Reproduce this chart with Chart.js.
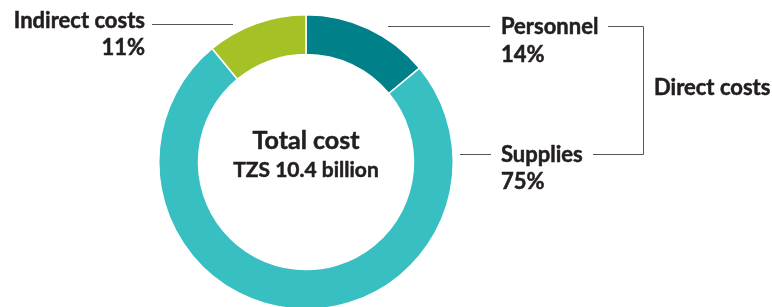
<!DOCTYPE html>
<html>
<head>
<meta charset="utf-8">
<script src="https://cdn.jsdelivr.net/npm/chart.js@4/dist/chart.umd.min.js"></script>
<style>
  html, body { margin: 0; padding: 0; background: #fff; overflow: hidden; }
  #wrap { width: 772px; height: 320px; }
</style>
</head>
<body>
<div id="wrap"><canvas id="donut"></canvas></div>
<script>
// data
const categories = ["Personnel", "Supplies", "Indirect costs"];
const shares = [14, 75, 11];
const colors = ["#00818a", "#37bfc1", "#a4c126"];
const centerTitle = "Total cost";
const centerSub = "TZS 10.4 billion";
const groupLabel = "Direct costs";

const FONT = "Lato, 'Open Sans', sans-serif";
const INK = "#231f20";
const LINE = "#555555";

// labels, leader lines and centre text
const annotate = {
  id: "annotate",
  afterDraw(chart) {
    const ctx = chart.ctx;
    const arc = chart.getDatasetMeta(0).data[0];
    const cx = arc.x, cy = arc.y;
    ctx.save();
    ctx.fillStyle = INK;
    ctx.strokeStyle = INK;
    ctx.lineWidth = 0.5;
    ctx.textBaseline = "alphabetic";
    const text = (s, x, y) => { ctx.fillText(s, x, y); ctx.strokeText(s, x, y); };

    // centre
    ctx.textAlign = "center";
    ctx.font = "bold 25px " + FONT;
    text(centerTitle, cx, cy - 13);
    ctx.font = "bold 21px " + FONT;
    text(centerSub, cx, cy + 15);

    // Indirect costs (left)
    ctx.font = "bold 22px " + FONT;
    ctx.textAlign = "right";
    text(categories[2], cx - 161, 28);
    text(shares[2] + "%", cx - 161, 55);

    // Personnel / Supplies (right)
    ctx.textAlign = "left";
    const tx = cx + 195;
    text(categories[0], tx, 34);
    text(shares[0] + "%", tx, 62);
    text(categories[1], tx, 162);
    text(shares[1] + "%", tx, 189);
    const bx = cx + 337;
    text(groupLabel, bx + 11, 95);

    ctx.strokeStyle = LINE;
    ctx.lineWidth = 1;
    const hline = (x1, x2, y) => {
      ctx.beginPath();
      ctx.moveTo(x1, y + 0.5);
      ctx.lineTo(x2, y + 0.5);
      ctx.stroke();
    };
    hline(cx - 154, cx - 73, 24);
    hline(cx + 82, cx + 184, 26);
    hline(cx + 154, cx + 185, 154);

    // bracket grouping direct costs
    ctx.beginPath();
    ctx.moveTo(cx + 302, 26.5);
    ctx.lineTo(bx + 0.5, 26.5);
    ctx.lineTo(bx + 0.5, 154.5);
    ctx.lineTo(cx + 287, 154.5);
    ctx.stroke();
    ctx.restore();
  }
};

new Chart(document.getElementById("donut"), {
  type: "doughnut",
  data: {
    labels: categories,
    datasets: [{
      data: shares,
      backgroundColor: colors,
      borderColor: "#ffffff",
      borderWidth: 1.5,
      hoverOffset: 0
    }]
  },
  options: {
    responsive: true,
    maintainAspectRatio: false,
    animation: false,
    cutout: "73%",
    rotation: 0,
    layout: { padding: { top: 14, bottom: 10, left: 158, right: 318 } },
    plugins: {
      legend: { display: false },
      tooltip: { enabled: false }
    }
  },
  plugins: [annotate]
});
</script>
</body>
</html>
